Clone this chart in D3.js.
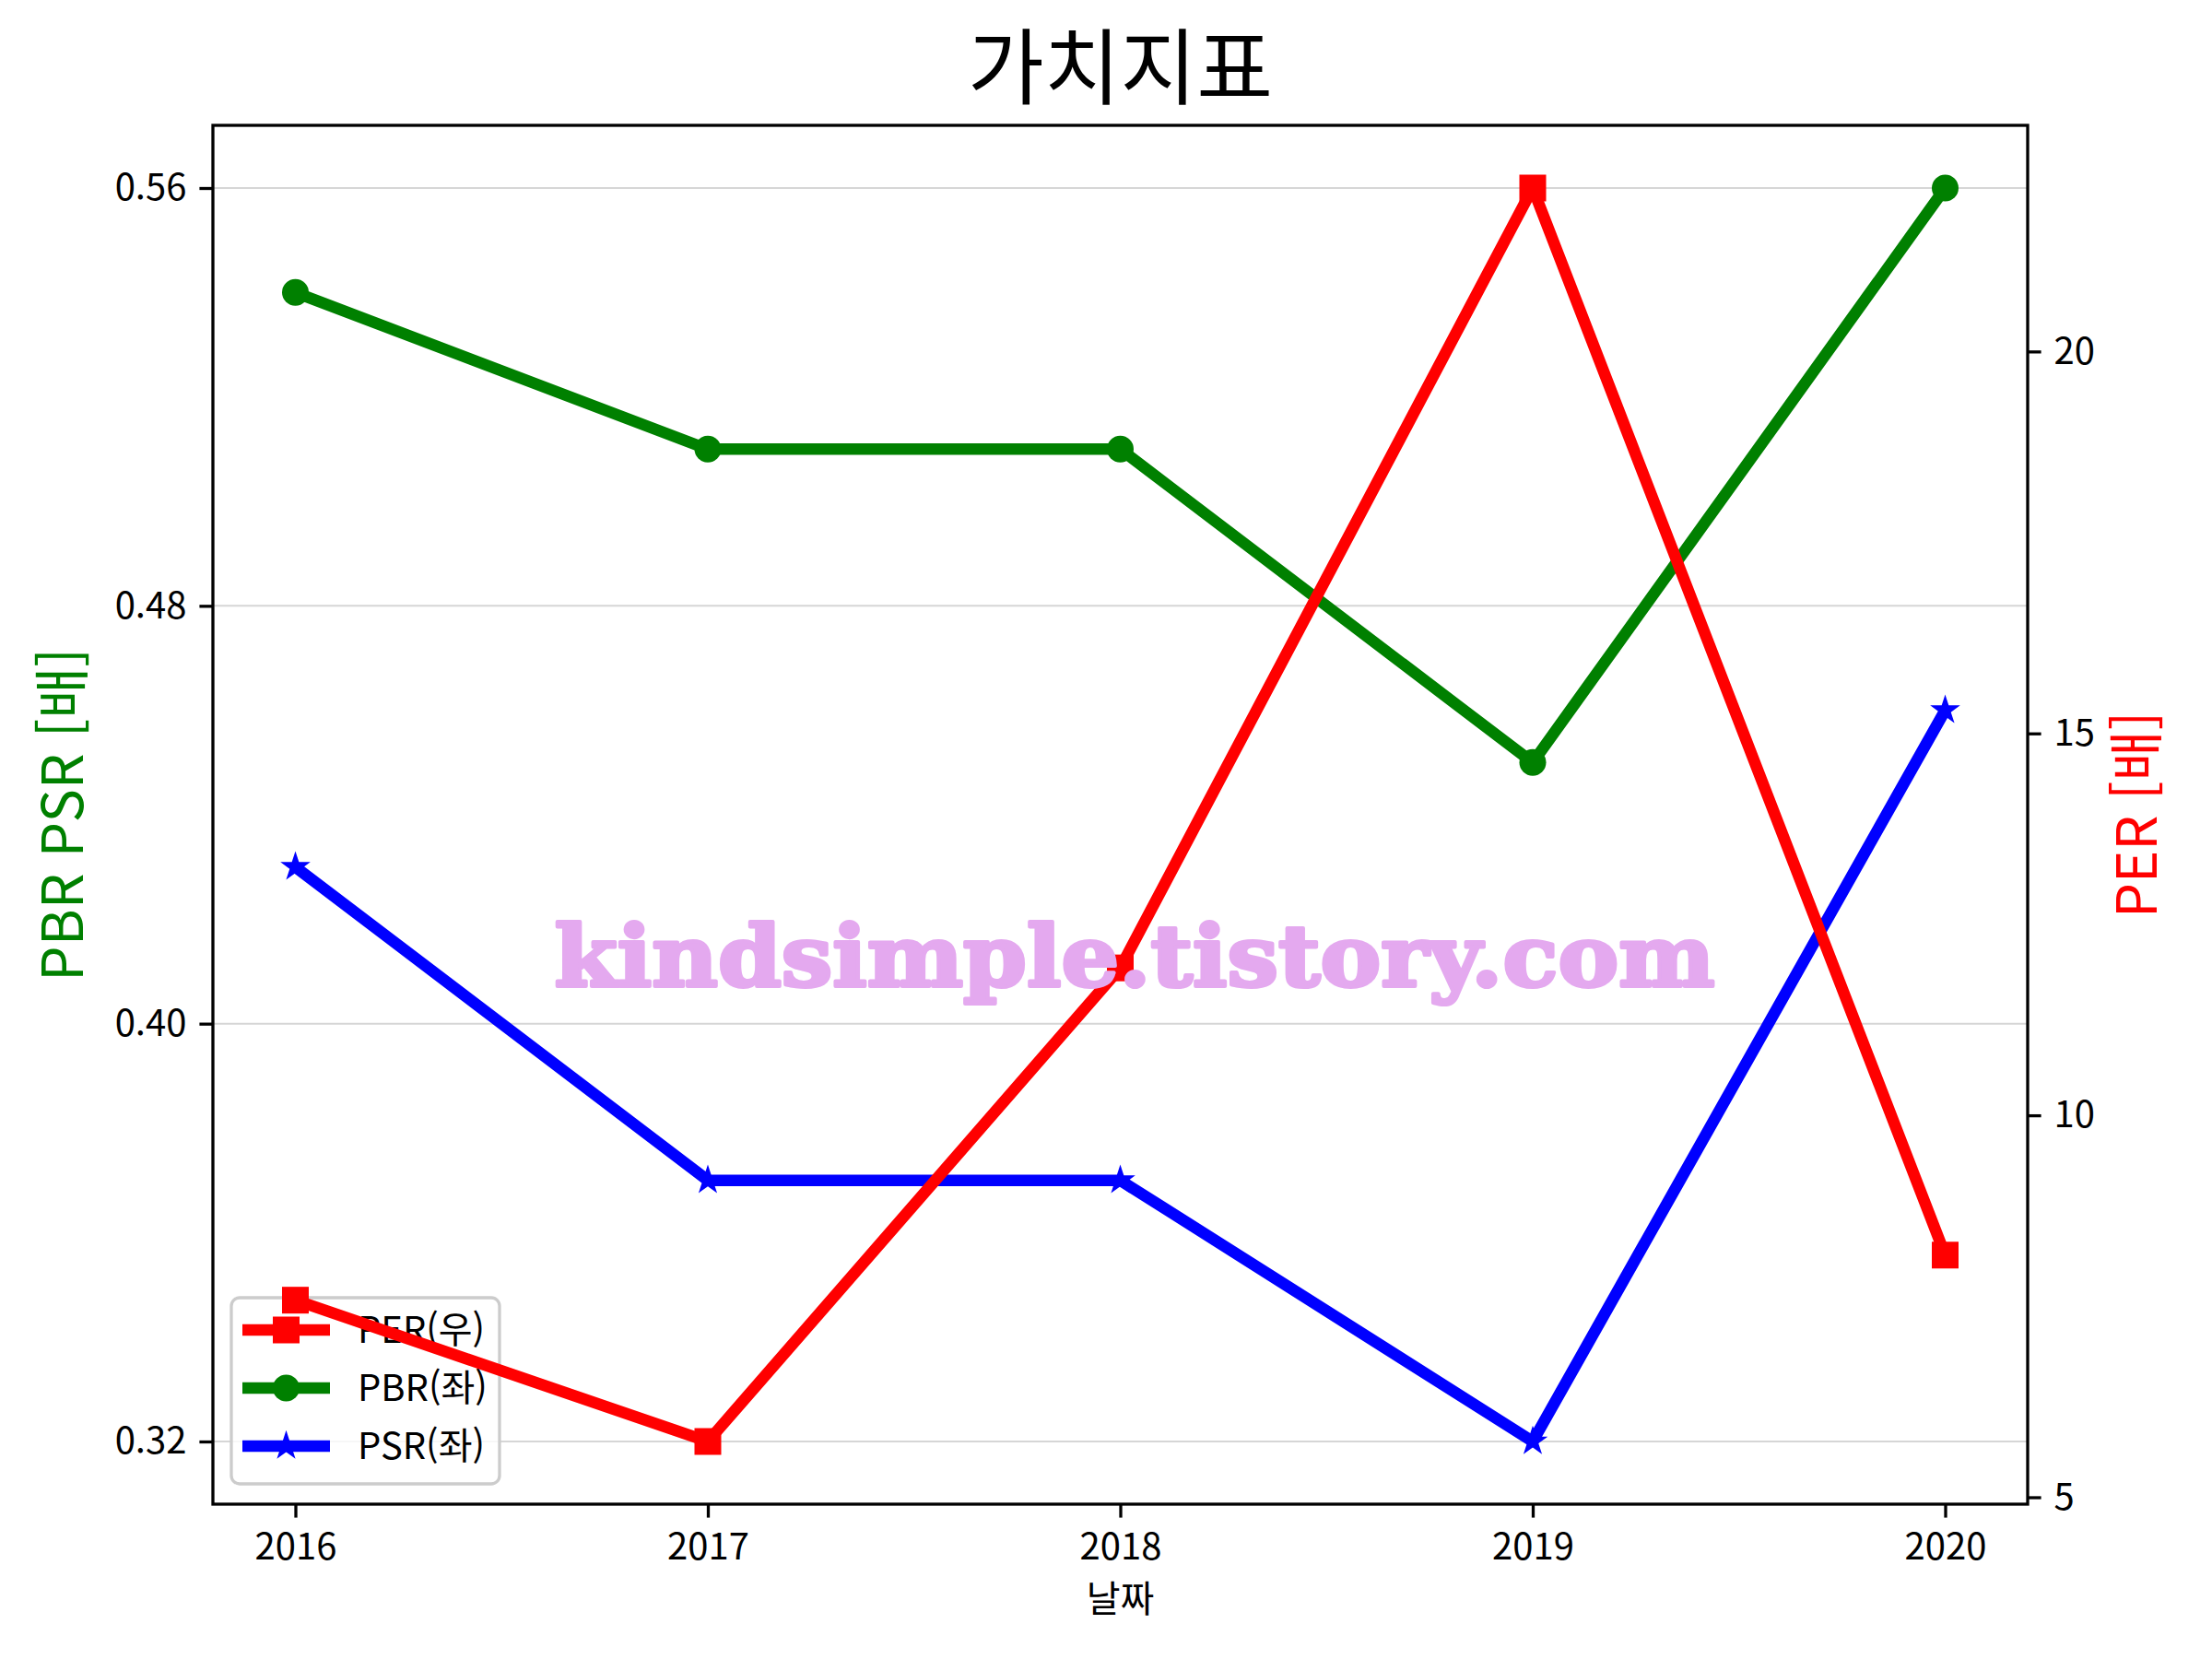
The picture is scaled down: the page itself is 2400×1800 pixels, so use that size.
<!DOCTYPE html>
<html lang="ko">
<head>
    <meta charset="UTF-8">
    <title>가치지표</title>
    <script src="https://d3js.org/d3.v7.min.js"></script>
    <style>
        body {
            margin: 0;
            background: #fff;
        }
        svg text {
            font-family: "Noto Sans CJK KR", "Noto Sans", sans-serif;
        }
        .axis path, .axis line {
            stroke: #000;
            stroke-width: 3.3px;
        }
        .axis text {
            font-size: 40px;
            fill: #000;
        }
    </style>
</head>
<body>
    <div id="chart"></div>
    <script>
        // data
        const years = [2016, 2017, 2018, 2019, 2020];
        const pbr = [0.54, 0.51, 0.51, 0.45, 0.56];
        const psr = [0.43, 0.37, 0.37, 0.32, 0.46];
        const per = [7.58, 5.73, 11.93, 22.14, 8.17];
        const leftTicks = [0.32, 0.40, 0.48, 0.56];
        const rightTicks = [5, 10, 15, 20];
        const seriesNames = ['PER(우)', 'PBR(좌)', 'PSR(좌)'];

        const W = 2400, H = 1800;
        const plotL = 231, plotR = 2200, plotT = 136, plotB = 1632;

        // matplotlib style 5% padding
        function padded(vals) {
            const lo = d3.min(vals), hi = d3.max(vals);
            const m = (hi - lo) * 0.05;
            return [lo - m, hi + m];
        }

        const x = d3.scaleLinear().domain(padded(years)).range([plotL, plotR]);
        const yL = d3.scaleLinear().domain(padded(pbr.concat(psr))).range([plotB, plotT]);
        const yR = d3.scaleLinear().domain(padded(per)).range([plotB, plotT]);

        const svg = d3.select('#chart').append('svg')
            .attr('width', W)
            .attr('height', H);

        // title
        svg.append('text')
            .attr('x', (plotL + plotR) / 2)
            .attr('y', 106)
            .attr('text-anchor', 'middle')
            .style('font-size', '90px')
            .text('가치지표');

        // grid (left axis ticks only)
        svg.append('g')
            .selectAll('line')
            .data(leftTicks)
            .join('line')
            .attr('x1', plotL).attr('x2', plotR)
            .attr('y1', d => yL(d)).attr('y2', d => yL(d))
            .attr('stroke', '#d6d6d6')
            .attr('stroke-width', 2);

        const line = (ys, scale) => d3.line()
            .x((d, i) => x(years[i]))
            .y(d => scale(d))(ys);

        const starPath = d3.symbol().type(d3.symbolStar).size(330)();

        // left-axis series
        const gL = svg.append('g');
        gL.append('path')
            .attr('d', line(pbr, yL))
            .attr('fill', 'none').attr('stroke', 'green')
            .attr('stroke-width', 12.5).attr('stroke-linejoin', 'round');
        gL.selectAll('.pbr-dot')
            .data(pbr)
            .join('circle')
            .attr('class', 'pbr-dot')
            .attr('cx', (d, i) => x(years[i]))
            .attr('cy', d => yL(d))
            .attr('r', 14.5)
            .attr('fill', 'green');

        gL.append('path')
            .attr('d', line(psr, yL))
            .attr('fill', 'none').attr('stroke', 'blue')
            .attr('stroke-width', 12.5).attr('stroke-linejoin', 'round');
        gL.selectAll('.psr-dot')
            .data(psr)
            .join('path')
            .attr('class', 'psr-dot')
            .attr('d', starPath)
            .attr('transform', (d, i) => `translate(${x(years[i])},${yL(d)})`)
            .attr('fill', 'blue');

        // legend (belongs to left axes, so PER line goes over it)
        const lg = svg.append('g').attr('transform', 'translate(251,1408)');
        lg.append('rect')
            .attr('width', 291).attr('height', 202)
            .attr('rx', 9)
            .attr('fill', 'rgba(255,255,255,0.8)')
            .attr('stroke', '#cccccc')
            .attr('stroke-width', 3.3);
        const legColors = ['red', 'green', 'blue'];
        seriesNames.forEach((name, i) => {
            const cy = 35 + i * 63;
            lg.append('line')
                .attr('x1', 12).attr('x2', 107)
                .attr('y1', cy).attr('y2', cy)
                .attr('stroke', legColors[i]).attr('stroke-width', 12.5);
            if (i === 0) {
                lg.append('rect')
                    .attr('x', 45).attr('y', cy - 14.5)
                    .attr('width', 29).attr('height', 29)
                    .attr('fill', 'red');
            } else if (i === 1) {
                lg.append('circle')
                    .attr('cx', 59.5).attr('cy', cy).attr('r', 14.5)
                    .attr('fill', 'green');
            } else {
                lg.append('path')
                    .attr('d', starPath)
                    .attr('transform', `translate(59.5,${cy})`)
                    .attr('fill', 'blue');
            }
            lg.append('text')
                .attr('x', 137).attr('y', cy)
                .attr('dy', '0.36em')
                .style('font-size', '40px')
                .text(name);
        });

        // right-axis series (twin axes, drawn on top)
        const gR = svg.append('g');
        gR.append('path')
            .attr('d', line(per, yR))
            .attr('fill', 'none').attr('stroke', 'red')
            .attr('stroke-width', 12.5).attr('stroke-linejoin', 'round');
        gR.selectAll('.per-dot')
            .data(per)
            .join('rect')
            .attr('class', 'per-dot')
            .attr('x', (d, i) => x(years[i]) - 14.5)
            .attr('y', d => yR(d) - 14.5)
            .attr('width', 29).attr('height', 29)
            .attr('fill', 'red');

        // frame
        svg.append('rect')
            .attr('x', plotL).attr('y', plotT)
            .attr('width', plotR - plotL).attr('height', plotB - plotT)
            .attr('fill', 'none')
            .attr('stroke', '#000')
            .attr('stroke-width', 3.3);

        // axes
        svg.append('g')
            .attr('class', 'axis')
            .attr('transform', `translate(0,${plotB})`)
            .call(d3.axisBottom(x).tickValues(years).tickFormat(d3.format('d'))
                .tickSize(14.6).tickPadding(17).tickSizeOuter(0))
            .call(g => g.select('.domain').remove());

        svg.append('g')
            .attr('class', 'axis')
            .attr('transform', `translate(${plotL},0)`)
            .call(d3.axisLeft(yL).tickValues(leftTicks).tickFormat(d3.format('.2f'))
                .tickSize(14.6).tickPadding(14).tickSizeOuter(0))
            .call(g => g.select('.domain').remove());

        svg.append('g')
            .attr('class', 'axis')
            .attr('transform', `translate(${plotR},0)`)
            .call(d3.axisRight(yR).tickValues(rightTicks).tickFormat(d3.format('d'))
                .tickSize(14.6).tickPadding(14).tickSizeOuter(0))
            .call(g => g.select('.domain').remove());

        // axis labels
        svg.append('text')
            .attr('x', (plotL + plotR) / 2)
            .attr('y', 1749)
            .attr('text-anchor', 'middle')
            .style('font-size', '40px')
            .text('날짜');

        svg.append('text')
            .attr('transform', `translate(90,${(plotT + plotB) / 2}) rotate(-90)`)
            .attr('text-anchor', 'middle')
            .style('font-size', '61px')
            .attr('fill', 'green')
            .text('PBR PSR [배]');

        svg.append('text')
            .attr('transform', `translate(2298,${(plotT + plotB) / 2}) rotate(-90)`)
            .attr('text-anchor', 'middle')
            .attr('dy', '0.7em')
            .style('font-size', '60px')
            .attr('fill', 'red')
            .text('PER [배]');

        // watermark
        svg.append('text')
            .attr('x', 1231)
            .attr('y', 1070)
            .attr('text-anchor', 'middle')
            .attr('textLength', 1259)
            .attr('lengthAdjust', 'spacingAndGlyphs')
            .style('font-family', '"DejaVu Serif", serif')
            .style('font-weight', 'bold')
            .style('font-size', '92px')
            .attr('fill', '#e4a9ef')
            .attr('stroke', '#e4a9ef')
            .attr('stroke-width', 4)
            .attr('stroke-linejoin', 'round')
            .text('kindsimple.tistory.com');
    </script>
</body>
</html>
